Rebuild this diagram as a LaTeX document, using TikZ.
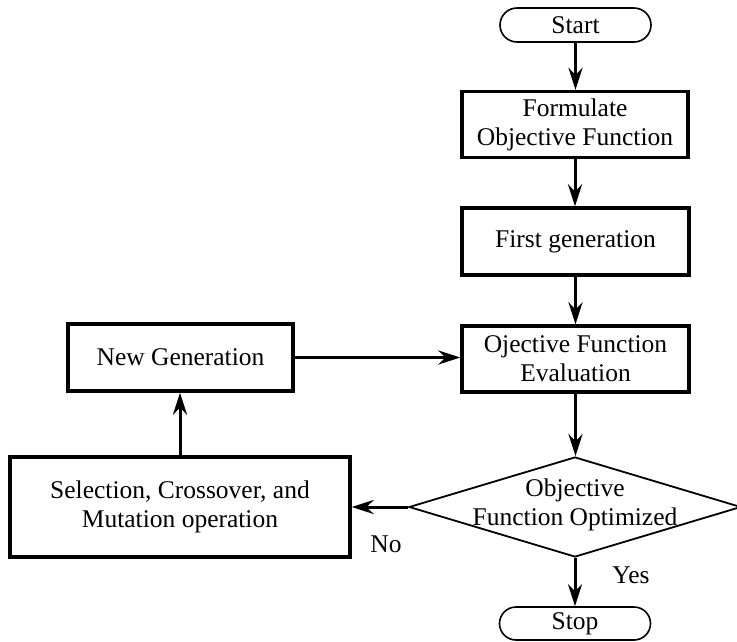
\documentclass[tikz,border=0pt]{standalone}
\usepackage{fontspec}
\setmainfont{Liberation Serif}
\usetikzlibrary{shapes.geometric,shapes.misc,arrows.meta}
\begin{document}
\begin{tikzpicture}[x=1pt,y=-1pt,
  every node/.style={font=\fontsize{25.5}{29}\selectfont, inner sep=0pt, align=center},
  procbox/.style={draw, line width=3.3pt, rectangle, minimum width=226pt, minimum height=66pt},
  term/.style={draw, line width=1.6pt, rounded rectangle, minimum width=151pt, minimum height=34pt},
  decision/.style={draw, line width=1.8pt, diamond, minimum width=332pt, minimum height=100pt},
  flow/.style={line width=3pt, -{Stealth[length=22pt,width=14pt,inset=7pt]}}
]
\useasboundingbox (0,0) rectangle (737,641);
\node[term] (start) at (575.5,25) {Start};
\node[procbox] (form) at (575,124.5) {Formulate\\Objective Function};
\node[procbox, minimum width=227pt, minimum height=67pt] (first) at (575.5,241.5) {First generation};
\node[procbox, minimum width=227pt] (eval) at (575.5,359) {Ojective Function\\Evaluation};
\node[procbox, minimum width=225pt, minimum height=67pt] (newgen) at (180.5,357.5) {New Generation};
\node[procbox, minimum width=340pt, minimum height=100pt] (sel) at (180,507) {Selection, Crossover, and\\Mutation operation};
\node[decision] (dec) at (575,507) {};
\node (dectext) at (575,505) {Objective\\Function Optimized};
\node[term, minimum height=33pt] (stop) at (575,623.5) {Stop};
\node (no) at (386,544) {No};
\node (yes) at (631,575) {Yes};

\draw[flow] (start.south) -- (start.south |- form.north);
\draw[flow] (form.south) -- (form.south |- first.north);
\draw[flow] (first.south) -- (first.south |- eval.north);
\draw[flow] (eval.south) -- (eval.south |- dec.north);
\draw[flow] (newgen.east) -- (newgen.east -| eval.west);
\draw[flow] (sel.north) -- (sel.north |- newgen.south);
\draw[flow] (dec.west) -- (dec.west -| sel.east);
\draw[flow] (dec.south) -- (dec.south |- stop.north);
\end{tikzpicture}
\end{document}
